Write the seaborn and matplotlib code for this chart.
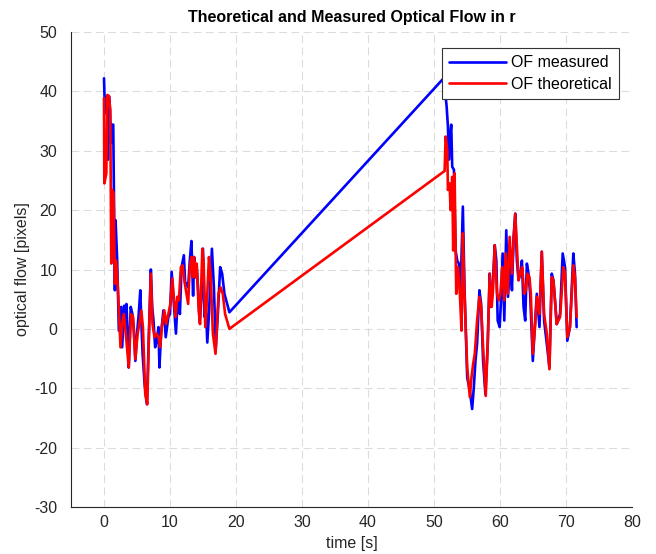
import matplotlib
matplotlib.use("Agg")
import matplotlib.pyplot as plt
import seaborn as sns
import pandas as pd
import numpy as np

# ---- data ----
t_measured = [0.00, 0.15, 0.35, 0.50, 0.60, 0.75, 0.90, 1.05, 1.25, 1.40, 1.65, 1.75, 2.00, 2.25, 2.60, 2.75,
              3.05, 3.25, 3.40, 3.60, 3.75, 4.05, 4.30, 4.50, 4.75, 5.00, 5.25, 5.50, 5.65, 5.85, 6.15, 6.50,
              6.80, 7.10, 7.30, 7.50, 7.75, 8.00, 8.25, 8.40, 8.65, 9.00, 9.15, 9.35, 9.75, 10.00, 10.25, 10.55,
              10.90, 11.10, 11.25, 11.50, 11.75, 12.10, 12.30, 12.50, 12.75, 13.00, 13.25, 13.50, 13.65, 13.85,
              14.05, 14.30, 14.50, 14.75, 15.00, 15.25, 15.40, 15.65, 15.90, 16.35, 16.65, 16.95, 17.25, 17.60,
              17.90, 18.25, 19.00,
              51.70, 51.76, 51.91, 52.11, 52.26, 52.41, 52.61, 52.76, 53.02, 53.27, 53.52, 53.77, 54.02, 54.37,
              54.62, 55.03, 55.43, 55.78, 56.03, 56.28, 56.53, 56.88, 57.14, 57.44, 57.79, 58.14, 58.44, 58.64,
              58.89, 59.20, 59.45, 59.65, 59.95, 60.15, 60.40, 60.65, 60.95, 61.21, 61.56, 61.81, 62.06, 62.31,
              62.56, 62.81, 63.07, 63.32, 63.57, 63.82, 64.07, 64.32, 64.57, 64.97, 65.33, 65.58, 65.98, 66.33,
              66.68, 67.09, 67.49, 67.84, 68.09, 68.34, 68.59, 69.10, 69.50, 69.85, 70.20, 70.60, 71.11, 71.36,
              71.61]
of_measured = [42.2, 36.3, 38.6, 39.2, 28.5, 39.2, 36.9, 31.3, 34.4, 34.4, 6.5, 18.3, 11.5, -0.3, 3.7, -3.1,
               3.9, 0.3, 4.2, -1.4, -6.5, 3.7, 2.5, 0.3, -5.4, -0.8, 2.3, 6.5, 1.4, -4.2, -9.3, -12.7,
               -0.8, 10.0, 3.7, 1.4, -3.1, -2.0, 0.3, -6.5, -0.8, 3.1, 2.0, -1.4, 2.0, 2.5, 9.6, 4.8,
               -0.8, 3.7, 5.4, 2.5, 10.4, 12.4, 7.6, 7.6, 7.0, 11.5, 14.8, 5.6, 12.1, 8.7,
               10.4, 5.9, 1.1, 4.8, 13.5, 2.0, 4.8, -2.3, 2.5, 13.5, 7.0, -3.1, 2.5, 10.4,
               9.3, 5.9, 2.8,
               42.5, 39.2, 37.5, 34.1, 28.5, 32.1, 34.4, 27.3, 26.8, 13.2, 11.5, 11.0, 5.9, 20.6,
               7.0, -8.2, -10.4, -13.5, -9.9, -5.4, -2.5, 6.5, 4.2, -5.4, -11.0, -2.5, 9.3, 3.7,
               7.0, 14.1, 11.5, 1.4, 0.3, 4.8, 12.7, 1.4, 16.6, 5.4, 11.5, 6.5, 15.5, 19.4,
               11.5, 8.2, 9.3, 11.5, 3.7, 1.4, 11.0, 9.3, 5.9, -5.4, 1.4, 5.9, 0.3, 13.0,
               1.4, -2.5, -6.5, 9.3, 8.2, 4.8, 0.8, 2.5, 12.7, 10.4, -2.0, 0.3, 12.7, 9.3,
               0.3]

t_theoretical = [0.00, 0.05, 0.35, 0.50, 0.75, 0.95, 1.10, 1.25, 1.45, 1.65, 1.85, 2.15, 2.50, 2.75, 3.00, 3.35,
                 3.75, 4.10, 4.40, 4.75, 5.10, 5.35, 5.65, 5.90, 6.25, 6.55, 6.85, 7.10, 7.35, 7.65, 8.00, 8.25,
                 8.50, 8.75, 9.15, 9.40, 9.75, 10.05, 10.35, 10.65, 10.85, 11.10, 11.35, 11.65, 11.90, 12.25,
                 12.75, 13.00, 13.25, 13.45, 13.65, 13.85, 14.05, 14.35, 14.55, 14.90, 15.10, 15.35, 15.65,
                 15.90, 16.15, 16.50, 16.90, 17.35, 17.65, 18.00, 18.35, 19.00,
                 51.61, 51.76, 52.01, 52.11, 52.36, 52.51, 52.76, 52.91, 53.12, 53.37, 53.62, 53.92, 54.17,
                 54.37, 54.62, 55.03, 55.43, 55.68, 55.93, 56.18, 56.53, 56.88, 57.14, 57.44, 57.84, 58.14,
                 58.44, 58.74, 58.94, 59.20, 59.55, 59.80, 60.05, 60.35, 60.65, 60.85, 61.16, 61.46, 61.81,
                 62.06, 62.31, 62.56, 62.81, 63.07, 63.37, 63.67, 63.92, 64.17, 64.47, 64.67, 64.97, 65.33,
                 65.58, 65.98, 66.33, 66.68, 67.09, 67.49, 67.84, 68.09, 68.59, 69.10, 69.60, 69.85, 70.20,
                 70.60, 71.11, 71.36, 71.61]
of_theoretical = [38.9, 24.5, 26.2, 39.4, 39.2, 36.9, 11.0, 23.4, 22.8, 7.6, 11.5, 5.9, -3.1, 0.8, 2.5, -1.4,
                  -6.5, 2.5, 2.0, -5.1, -0.8, 0.8, 3.1, 0.3, -11.0, -12.7, 0.3, 9.3, 0.8, -1.4, -0.8, -1.4,
                  -3.1, 0.3, 3.1, 0.8, 2.5, 4.2, 8.5, 4.2, 2.0, 5.4, 4.8, 10.4, 10.7, 7.6,
                  4.2, 10.4, 12.1, 8.7, 12.1, 8.7, 11.0, 3.1, 0.8, 13.5, 11.0, 0.3, 5.9,
                  12.1, 9.3, -0.8, -4.2, 5.9, 7.0, 5.9, 2.5, 0.0,
                  26.6, 32.4, 30.1, 23.4, 24.5, 20.0, 25.6, 13.2, 26.2, 5.9, 10.4, 5.9, -0.3,
                  16.1, 5.9, -6.5, -11.5, -8.2, -5.9, -4.2, 1.4, 5.4, 3.7, -3.1, -11.3, -2.5,
                  9.3, 3.7, 6.5, 14.1, 5.9, 4.8, 5.9, 10.4, 4.8, 12.7, 5.9, 15.5, 9.3,
                  14.9, 19.4, 13.8, 8.2, 9.3, 10.4, 5.9, 6.5, 9.3, 8.7, 5.9, -4.2, 0.8,
                  5.4, 2.5, 13.0, 2.5, -0.8, -6.8, 8.7, 8.2, 0.8, 2.0, 10.4, 9.3, -1.4,
                  0.3, 10.7, 8.7, 2.0]

series_names = ["OF measured", "OF theoretical"]
series_colors = ["#0000ff", "#ff0000"]
x_ticks = [0, 10, 20, 30, 40, 50, 60, 70, 80]
y_ticks = [-30, -20, -10, 0, 10, 20, 30, 40, 50]

df = pd.concat([
    pd.DataFrame({"t": t_measured, "v": of_measured, "series": series_names[0]}),
    pd.DataFrame({"t": t_theoretical, "v": of_theoretical, "series": series_names[1]}),
], ignore_index=True)

sns.set_style("white")
plt.rcParams["font.family"] = ["Liberation Sans", "DejaVu Sans"]

fig = plt.figure(figsize=(6.56, 5.54), dpi=100)
ax = fig.add_axes([71 / 656, 1 - 507 / 554, (632 - 71) / 656, (507 - 32) / 554])

sns.lineplot(data=df, x="t", y="v", hue="series", hue_order=series_names,
             palette=dict(zip(series_names, series_colors)), estimator=None,
             sort=False, linewidth=1.9, ax=ax, legend=True)

ax.set_xlim(-5, 80)
ax.set_ylim(-30, 50)
ax.set_xticks(x_ticks)
ax.set_yticks(y_ticks)
ax.set_xticklabels([str(v) for v in x_ticks])
ax.set_yticklabels([str(v) for v in y_ticks])

ax.grid(True, color="#dcdcdc", linestyle=(0, (7, 4)), linewidth=0.8)
ax.set_axisbelow(True)
for s in ["top", "right"]:
    ax.spines[s].set_visible(False)
for s in ["left", "bottom"]:
    ax.spines[s].set_color("#262626")
    ax.spines[s].set_linewidth(0.8)

ax.tick_params(direction="in", length=4, width=0.8, color="#262626",
               labelsize=11.5, labelcolor="#262626")
ax.tick_params(axis="x", pad=6)
ax.tick_params(axis="y", pad=10)

ax.set_xlabel("time [s]", fontsize=11.5, color="#262626", labelpad=4)
ax.set_ylabel("optical flow [pixels]", fontsize=11.5, color="#262626", labelpad=3)
ax.set_title("Theoretical and Measured Optical Flow in r", fontsize=11.5,
             fontweight="bold", color="black", pad=7)

handles, labels = ax.get_legend_handles_labels()
leg = ax.legend(handles, labels, loc="upper right", bbox_to_anchor=(0.977, 0.966),
                fontsize=11.5, frameon=True, fancybox=False, edgecolor="#333333",
                framealpha=1, handlelength=3.6, handletextpad=0.3, borderpad=0.45,
                labelspacing=0.4, borderaxespad=0)
leg.get_frame().set_linewidth(0.8)
for txt in leg.get_texts():
    txt.set_color("black")

fig.savefig("out.png", dpi=100)
